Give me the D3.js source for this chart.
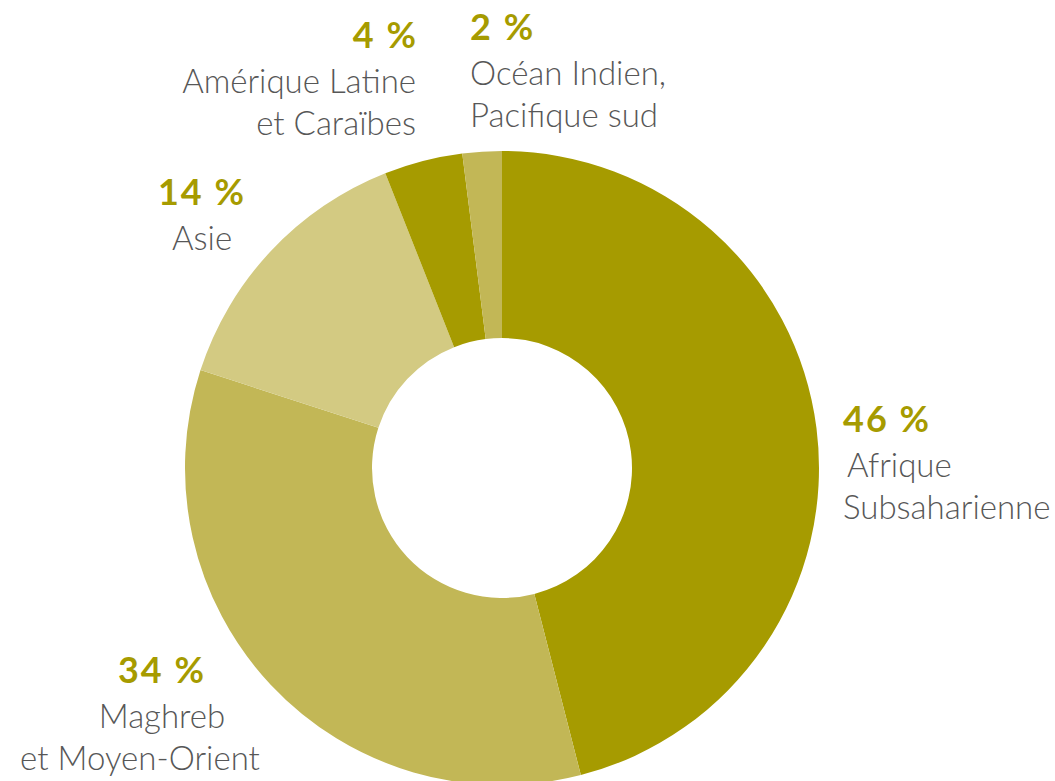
<!DOCTYPE html>
<html>
<head>
<meta charset="utf-8">
<script src="https://cdn.jsdelivr.net/npm/d3@7"></script>
<style>
  body { margin: 0; background: #fff; }
  .pct { font-family: Lato, "Open Sans", sans-serif; font-weight: 700; fill: #a69b00; letter-spacing: 2px; }
  .lbl { font-family: Lato, "Open Sans", sans-serif; font-weight: 300; fill: #575757; }
</style>
</head>
<body>
<div id="chart"></div>
<script>
// Data (clockwise from 12 o'clock)
var regions = [
  ["Afrique", "Subsaharienne"],
  ["Maghreb", "et Moyen-Orient"],
  ["Asie"],
  ["Amérique Latine", "et Caraïbes"],
  ["Océan Indien,", "Pacifique sud"]
];
var shares = [46, 34, 14, 4, 2];
var pctLabels = ["46 %", "34 %", "14 %", "4 %", "2 %"];
var colors = ["#a69b00", "#c2b756", "#d3ca82", "#a69b00", "#c2b756"];

var svgWidth = 1055, svgHeight = 781;
var cx = 502, cy = 468;

var svg = d3.select("#chart")
  .append("svg")
  .attr("width", svgWidth)
  .attr("height", svgHeight);

var pie = d3.pie().sort(null).value(d => d);
var arc = d3.arc().innerRadius(130).outerRadius(317);

var g = svg.append("g")
  .attr("transform", `translate(${cx}, ${cy})`);

g.selectAll("path")
  .data(pie(shares))
  .enter()
  .append("path")
  .attr("d", arc)
  .attr("fill", (d, i) => colors[i]);

// label placement: x, baseline of the % line, anchor, per-line x shifts
var layout = [
  { x: 843, y: 432, anchor: "start", dx: [0, 4, 0] },
  { x: 162, y: 683, anchor: "middle", dx: [0, 0, -22] },
  { x: 202, y: 205, anchor: "middle", dx: [0, 0] },
  { x: 416, y: 48, anchor: "end", dx: [2, 0, 0] },
  { x: 470, y: 40, anchor: "start", dx: [0, 0, 0] }
];
var lineGap = 42;

layout.forEach(function(p, i) {
  var t = svg.append("g");
  t.append("text")
    .attr("class", "pct")
    .attr("x", p.x + p.dx[0])
    .attr("y", p.y)
    .attr("text-anchor", p.anchor)
    .style("font-size", "36px")
    .text(pctLabels[i]);
  regions[i].forEach(function(line, j) {
    t.append("text")
      .attr("class", "lbl")
      .attr("x", p.x + p.dx[j + 1])
      .attr("y", p.y + 45 + j * lineGap)
      .attr("text-anchor", p.anchor)
      .style("font-size", "33px")
      .text(line);
  });
});
</script>
</body>
</html>
